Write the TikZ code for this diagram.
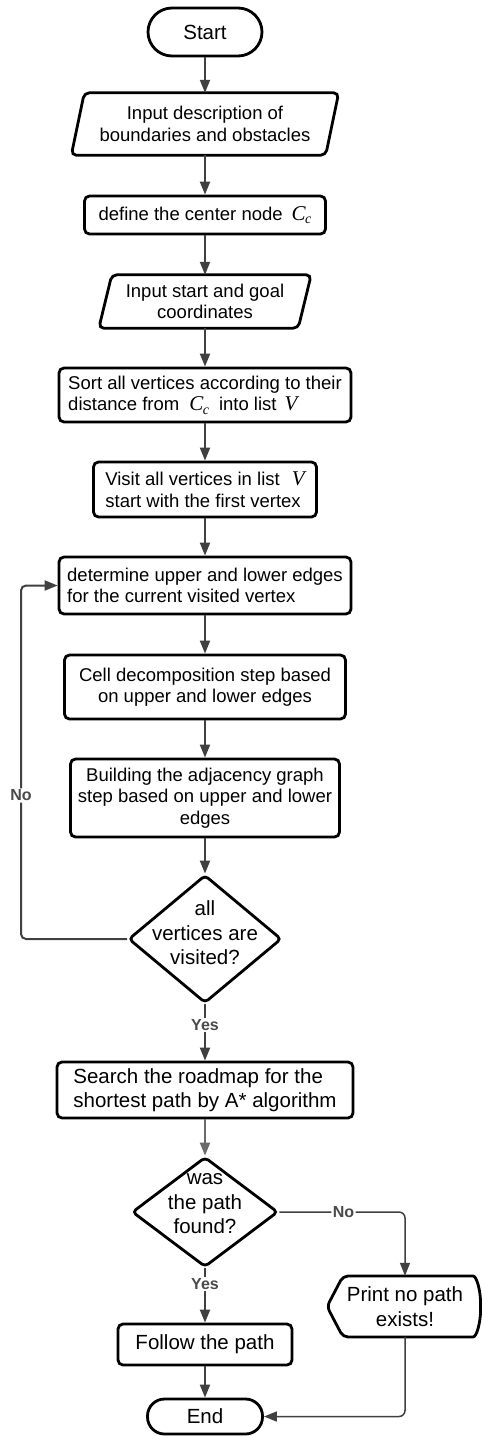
\documentclass[tikz,border=0pt]{standalone}
\usepackage{fontspec}
\setmainfont{Liberation Sans}
\newfontfamily\tms{Liberation Serif}
\usetikzlibrary{arrows.meta,shapes.geometric,calc}
\definecolor{arrc}{HTML}{404040}
\definecolor{arrl}{HTML}{6A6A6A}
\definecolor{labc}{HTML}{4A4A4A}
\newcommand\Cc{{\tms\itshape\fontsize{21}{21}\selectfont C\kern-0.5pt\raisebox{-3.5pt}{\fontsize{14}{14}\selectfont c}}}
\newcommand\Vv{{\tms\itshape\fontsize{21}{21}\selectfont V}}
\begin{document}
\begin{tikzpicture}[x=1pt,y=-1pt,
  box/.style={draw=black, line width=2.8pt, rounded corners=5pt, inner sep=0pt},
  plain/.style={inner sep=0pt},
  fa/.style={font=\fontsize{18.5}{21.5}\selectfont},
  fb/.style={font=\fontsize{20.5}{24.5}\selectfont},
  tip/.style={-{Triangle[length=13pt,width=10pt]}},
  arr/.style={draw=arrc, line width=2pt, tip},
  thinarr/.style={draw=arrc, line width=1.5pt, tip},
  lab/.style={font=\bfseries\fontsize{16}{16}\selectfont, text=labc, fill=white, inner sep=1.5pt},
  dia/.style={diamond, draw=black, line width=2.8pt, rounded corners=4pt, inner sep=0pt},
]
\useasboundingbox[fill=white] (0,0) rectangle (482,1436);

% nodes
\node[box, rounded corners=24pt, minimum width=114pt, minimum height=48pt, fb] (start) at (205,32) {Start};

\node[plain, minimum width=254pt, minimum height=62pt, fa, align=center] (in1) at (205,124) {Input description of\\boundaries and obstacles};
\draw[box] ($(in1.north west)+(6.5,0)$) -- ($(in1.north east)+(6.5,0)$) -- ($(in1.south east)+(-6.5,0)$) -- ($(in1.south west)+(-6.5,0)$) -- cycle;

\node[box, minimum width=241pt, minimum height=38pt, fa] (def) at (205,215) {define the center node\hspace{9pt}\Cc};

\node[plain, minimum width=199pt, minimum height=53pt, fa, align=center] (in2) at (205,301.5) {Input start and goal\\coordinates};
\draw[box] ($(in2.north west)+(6.5,0)$) -- ($(in2.north east)+(6.5,0)$) -- ($(in2.south east)+(-6.5,0)$) -- ($(in2.south west)+(-6.5,0)$) -- cycle;

\node[box, minimum width=292pt, minimum height=54pt, fa, align=left] (sort) at (205,395) {Sort all vertices according to their\\distance from\hspace{10pt}\Cc\hspace{10pt}into list\hspace{8pt}\Vv};

\node[box, minimum width=223pt, minimum height=55pt, fa, align=left] (visit) at (205,489.5) {Visit all vertices in list\hspace{12pt}\Vv\\start with the first vertex};

\node[box, minimum width=292pt, minimum height=57pt, fa, align=left] (det) at (205,585.5) {determine upper and lower edges\\for the current visited vertex};

\node[box, minimum width=281pt, minimum height=64pt, fa, align=center] (cell) at (205,687) {Cell decomposition step based\\on upper and lower edges};

\node[box, minimum width=269pt, minimum height=78pt, fa, align=center] (build) at (205,798) {Building the adjacency graph\\step based on upper and lower\\edges};

\node[dia, minimum width=153pt, minimum height=128pt] (d1) at (205,939) {};
\node[plain, fb, align=center] (d1t) at (205,933) {all\\vertices are\\visited?};

\node[box, minimum width=296pt, minimum height=56pt, fb, align=left] (search) at (205,1090) {Search the roadmap for the\\shortest path by A* algorithm};

\node[dia, minimum width=146pt, minimum height=110pt] (d2) at (205,1212) {};
\node[plain, fb, align=center] (d2t) at (205,1204) {was\\the path\\found?};

\node[plain, minimum width=154pt, minimum height=61pt, fb, align=center] (pr) at (405,1306.5) {Print no path\\exists!};
\draw[box] (343,1276) -- (468,1276) .. controls (477,1276) and (480.5,1292) .. (480.5,1306.5) .. controls (480.5,1321) and (477,1337) .. (468,1337) -- (343,1337) -- (327,1306.5) -- cycle;

\node[box, minimum width=174pt, minimum height=41pt, fb] (follow) at (205,1344.5) {Follow the path};

\node[box, rounded corners=17pt, minimum width=115pt, minimum height=35pt, fb] (end) at (205,1416.5) {End};

% connectors
\coordinate (lx) at (21,0);
\draw[arr] (start) -- (in1);
\draw[arr] (in1) -- (def);
\draw[arr] (def) -- (in2);
\draw[arr] (in2) -- (sort);
\draw[arr] (sort) -- (visit);
\draw[arr] (visit) -- (det);
\draw[arr] (det) -- (cell);
\draw[arr] (cell) -- (build);
\draw[arr] (build) -- (d1);
\draw[arr] (d1) -- node[lab, pos=0.36] {Yes} (search);
\draw[arr, rounded corners=5pt] (d1.west) -- (d1.west -| lx) -- node[lab, pos=0.406] {No} (det.west -| lx) -- (det.west);
\draw[arr, draw=arrl] (search) -- (d2);
\draw[thinarr, rounded corners=6pt] (d2.east) -- node[lab, pos=0.51] {No} (d2.east -| pr.north) -- (pr.north);
\draw[arr] (d2) -- node[lab, pos=0.28] {Yes} (follow);
\draw[arr] (follow) -- (end);
\draw[thinarr, rounded corners=6pt] (pr.south) |- (end.east);
\end{tikzpicture}
\end{document}
